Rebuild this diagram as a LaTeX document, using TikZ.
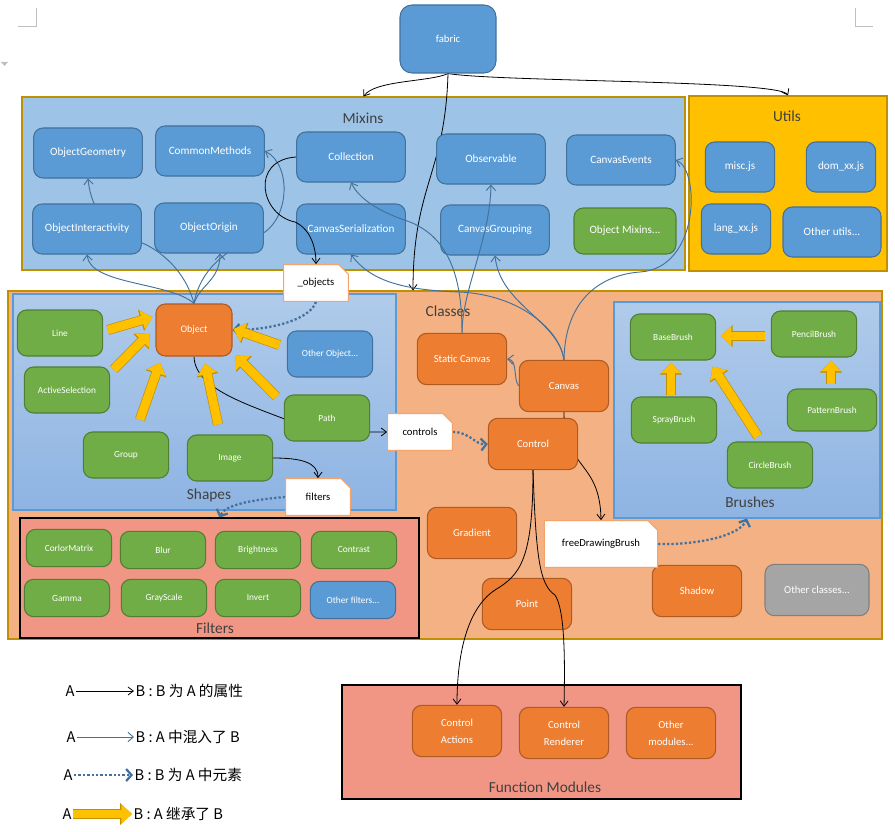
\documentclass[tikz,border=0pt]{standalone}
\usepackage{fontspec}
\setmainfont{Carlito}
\newfontfamily\cjk{Noto Sans CJK SC}
\usepackage{tikz}
\usetikzlibrary{arrows.meta, positioning, fit, calc, shapes.misc}
\definecolor{nodeblue}{HTML}{5B9BD5}
\definecolor{nodeblueline}{HTML}{41719C}
\definecolor{nodeorange}{HTML}{ED7D31}
\definecolor{nodeorangeline}{HTML}{AE5A21}
\definecolor{nodegreen}{HTML}{70AD47}
\definecolor{nodegreenline}{HTML}{507E32}
\definecolor{nodegray}{HTML}{A5A5A5}
\definecolor{nodegrayline}{HTML}{7F7F7F}
\definecolor{mixinfill}{HTML}{9DC3E6}
\definecolor{utilfill}{HTML}{FFC000}
\definecolor{classfill}{HTML}{F4B183}
\definecolor{groupline}{HTML}{BF9000}
\definecolor{shapetop}{HTML}{B0CBEA}
\definecolor{shapebottom}{HTML}{8EB4E3}
\definecolor{filterfill}{HTML}{F19585}
\definecolor{noteline}{HTML}{F4A46A}
\definecolor{mixlink}{HTML}{41719C}
\definecolor{inhyellow}{HTML}{FFC000}
\definecolor{inhline}{HTML}{BF9000}
\definecolor{titlegray}{HTML}{404040}
\definecolor{markgray}{HTML}{BFBFBF}
\pgfdeclarelayer{boxes}
\pgfdeclarelayer{links}
\pgfsetlayers{boxes,links,main}

\begin{document}
\begin{tikzpicture}[
    x=0.75pt, y=0.75pt,
    cls/.style={rounded corners=7pt, line width=0.8pt, text=white, align=center, font=\fontsize{8}{12.5}\selectfont, inner sep=1pt},
    bluebox/.style={cls, fill=nodeblue, draw=nodeblueline},
    orangebox/.style={cls, fill=nodeorange, draw=nodeorangeline},
    greenbox/.style={cls, fill=nodegreen, draw=nodegreenline},
    graybox/.style={cls, fill=nodegray, draw=nodegrayline},
    mixsize/.style={minimum width=81.5pt, minimum height=37.5pt, font=\fontsize{8.4}{10}\selectfont},
    utilsize/.style={minimum width=52pt, minimum height=37.5pt, font=\fontsize{8.4}{10}\selectfont},
    shapesize/.style={minimum width=64pt, minimum height=34.5pt, font=\fontsize{7}{9}\selectfont},
    filtersize/.style={minimum width=64pt, minimum height=28pt, font=\fontsize{7}{9}\selectfont},
    classsize/.style={minimum width=67pt, minimum height=38.5pt},
    area/.style={draw=groupline, line width=0.8pt, inner sep=0pt},
    areatitle/.style={text=titlegray, font=\fontsize{11.5}{14}\selectfont, inner sep=1pt},
    note/.style={chamfered rectangle, chamfered rectangle corners=north east, chamfered rectangle xsep=4pt, draw=noteline, fill=white, line width=0.8pt, font=\fontsize{8}{10}\selectfont, inner sep=1pt, minimum width=48.5pt, minimum height=27.5pt},
    propline/.style={-{Straight Barb[length=4pt,width=6pt]}, line width=0.6pt, black},
    mixline/.style={-{Straight Barb[length=4pt,width=7pt]}, line width=0.7pt, mixlink},
    elemline/.style={line width=1.7pt, mixlink, dash pattern=on 1.7pt off 1.6pt, -{Straight Barb[length=4pt,width=9pt]}},
    inheritarrow/.style={line width=6.5pt, draw=inhyellow, -{Triangle[length=8pt,width=14pt]}, preaction={draw=inhline, line width=7.5pt, -{Triangle[length=9pt,width=16pt]}}},
    legend/.style={font=\cjk\fontsize{11}{13}\selectfont, inner sep=1pt}
]
    \useasboundingbox (0,0) rectangle (895,-831);

    % Page corner marks
    \draw[markgray, line width=0.6pt] (36,-8) -- (36,-26) -- (18,-26);
    \draw[markgray, line width=0.6pt] (855,-8) -- (855,-26) -- (873,-26);
    \fill[markgray] (1,-62) -- (8,-62) -- (4.5,-66) -- cycle;

    % Nodes - top
    \node[bluebox, rounded corners=9pt, minimum width=72pt, minimum height=51pt] (fabric) at (448,-39) {fabric};

    % Nodes - mixins
    \node[bluebox, mixsize] (objgeo) at (88,-153) {ObjectGeometry};
    \node[bluebox, mixsize] (common) at (210,-151) {CommonMethods};
    \node[bluebox, mixsize] (collection) at (351,-157) {Collection};
    \node[bluebox, mixsize] (observable) at (491,-159) {Observable};
    \node[bluebox, mixsize] (cevents) at (621,-160) {CanvasEvents};
    \node[bluebox, mixsize] (objinter) at (87,-229) {ObjectInteractivity};
    \node[bluebox, mixsize] (objorigin) at (209,-228) {ObjectOrigin};
    \node[bluebox, mixsize] (cserial) at (351,-229) {CanvasSerialization};
    \node[bluebox, mixsize] (cgroup) at (495,-230) {CanvasGrouping};
    \node[greenbox, mixsize, minimum width=76.5pt, minimum height=34.5pt] (objmix) at (625,-231) {Object Mixins...};

    % Nodes - utils
    \node[bluebox, utilsize] (misc) at (740,-167) {misc.js};
    \node[bluebox, utilsize] (dom) at (841,-167) {dom\_xx.js};
    \node[bluebox, utilsize] (lang) at (736,-229) {lang\_xx.js};
    \node[bluebox, utilsize, minimum width=73.5pt] (otherutil) at (832,-232) {Other utils...};

    % Nodes - shapes
    \node[orangebox, shapesize, minimum width=57pt, minimum height=39pt, font=\fontsize{7.5}{9}\selectfont] (object) at (194,-330) {Object};
    \node[greenbox, shapesize] (line) at (60,-333) {Line};
    \node[greenbox, shapesize] (actsel) at (67,-390) {ActiveSelection};
    \node[greenbox, shapesize] (grp) at (126,-455) {Group};
    \node[greenbox, shapesize] (image) at (230,-458) {Image};
    \node[greenbox, shapesize] (pathshape) at (327,-418) {Path};
    \node[bluebox, shapesize] (otherobj) at (330,-354) {Other Object...};

    % Nodes - filters
    \node[greenbox, filtersize] (cmatrix) at (69,-548) {CorlorMatrix};
    \node[greenbox, filtersize] (blur) at (163,-550) {Blur};
    \node[greenbox, filtersize] (bright) at (258,-550) {Brightness};
    \node[greenbox, filtersize] (contrast) at (354,-550) {Contrast};
    \node[greenbox, filtersize] (gamma) at (67,-598) {Gamma};
    \node[greenbox, filtersize] (grayscale) at (164,-598) {GrayScale};
    \node[greenbox, filtersize] (invert) at (258,-598) {Invert};
    \node[bluebox, filtersize] (otherfilter) at (353,-600) {Other filters...};

    % Nodes - classes
    \node[orangebox, classsize] (static) at (462,-359) {Static Canvas};
    \node[orangebox, classsize] (canvas) at (564,-386) {Canvas};
    \node[orangebox, classsize] (control) at (533,-444) {Control};
    \node[orangebox, classsize] (gradient) at (472,-533) {Gradient};
    \node[orangebox, classsize] (point) at (527,-604) {Point};
    \node[orangebox, classsize] (shadow) at (697,-591) {Shadow};
    \node[graybox, classsize, minimum width=78pt] (otherclass) at (817,-590) {Other classes...};

    % Nodes - brushes
    \node[greenbox, shapesize] (base) at (673,-337) {BaseBrush};
    \node[greenbox, shapesize] (pencil) at (814,-334) {PencilBrush};
    \node[greenbox, shapesize] (spray) at (674,-420) {SprayBrush};
    \node[greenbox, shapesize, minimum width=67pt, minimum height=31.5pt] (pattern) at (832,-410) {PatternBrush};
    \node[greenbox, shapesize] (circle) at (770,-465) {CircleBrush};

    % Nodes - function modules
    \node[orangebox, classsize] (cactions) at (457,-731) {Control\\Actions};
    \node[orangebox, classsize] (crender) at (564,-733) {Control\\Renderer};
    \node[orangebox, classsize] (othermod) at (671,-733) {Other\\modules...};

    % Notes
    \node[note] (objects) at (316,-283) {\_objects};
    \node[note] (controls) at (420,-432) {controls};
    \node[note] (filternote) at (318,-497) {filters};
    \node[note, minimum width=85pt, minimum height=35pt] (freebrush) at (601,-544) {freeDrawingBrush};

    % Titles
    \node[areatitle] (mixinstitle) at (363,-118) {Mixins};
    \node[areatitle] (utilstitle) at (787,-116) {Utils};
    \node[areatitle] (classestitle) at (448,-311) {Classes};
    \node[areatitle] (shapestitle) at (209,-495) {Shapes};
    \node[areatitle] (brushestitle) at (750,-502) {Brushes};
    \node[areatitle] (filterstitle) at (215,-628) {Filters};
    \node[areatitle] (funcmodtitle) at (545,-787) {Function Modules};

    % Areas
    \begin{pgfonlayer}{boxes}
        \fill[white] (0,0) rectangle (895,-831);
        \node[area, fill=mixinfill, fit={(22,-97) (685,-270)}] (mixins) {};
        \node[area, fill=utilfill, fit={(689,-96) (887,-271)}] (utils) {};
        \node[area, fill=classfill, fit={(8,-291) (882,-639)}] (classes) {};
        \node[area, draw=nodeblue, top color=shapetop, bottom color=shapebottom, fit={(13,-294) (396,-510)}] (shapes) {};
        \node[area, draw=nodeblue, top color=shapetop, bottom color=shapebottom, fit={(614,-302) (880,-518)}] (brushes) {};
        \node[area, draw=black, fill=filterfill, fit={(20,-518) (419,-638)}] (filtersarea) {};
        \node[area, draw=black, fill=filterfill, fit={(342,-685) (741,-799)}] (funcmod) {};
    \end{pgfonlayer}

    % Legend
    \node[legend] (lgA1) at (70,-691) {A};
    \node[legend, anchor=west] (lgB1) at (134,-691) {B : B 为 A 的属性};
    \node[legend] (lgA2) at (71,-737) {A};
    \node[legend, anchor=west] (lgB2) at (134,-737) {B : A 中混入了 B};
    \node[legend] (lgA3) at (68,-775) {A};
    \node[legend, anchor=west] (lgB3) at (133,-775) {B : B 为 A 中元素};
    \node[legend] (lgA4) at (67,-814) {A};
    \node[legend, anchor=west] (lgB4) at (132,-814) {B : A 继承了 B};

    \begin{pgfonlayer}{links}
        % Arrows - mixins (behind boxes)
        \draw[mixline] (object.north) .. controls (185,-270) and (160,-250) .. (140,-242) .. controls (100,-230) and (90,-200) .. (objgeo.south);
        \draw[mixline] (object.north) .. controls (170,-282) and (90,-285) .. (objinter.south);
        \draw[mixline] (object.north) .. controls (200,-285) and (220,-280) .. ($(objorigin.south)+(11,0)$);
        \draw[mixline] (object.north) .. controls (200,-270) and (225,-250) .. (260,-235) .. controls (290,-220) and (292,-165) .. (common.east);
        \draw[mixline] (canvas.north) .. controls (558,-320) and (500,-305) .. (cgroup.south);
        \draw[mixline] (canvas.north) .. controls (565,-300) and (600,-275) .. (640,-272) .. controls (700,-268) and (700,-170) .. (cevents.east);
        \draw[mixline] (canvas.west) .. controls (513,-380) and (518,-360) .. (static.east);

        % Arrows - properties (behind boxes)
        \draw[propline] (fabric.south) .. controls (430,-82) and (375,-80) .. ($(mixins.north)+(10,0)$);
        \draw[propline] (fabric.south) .. controls (500,-82) and (780,-80) .. (utils.north);
        \draw[propline] (fabric.south) .. controls (445,-175) and (413,-185) .. ($(classes.north)+(-32,0)$);
        \draw[propline] (object.south) .. controls (195,-390) and (250,-405) .. (300,-425) .. controls (340,-432) .. (controls.west);
        \draw[propline] (image.east) .. controls (300,-458) and (318,-462) .. (filternote.north);
        \draw[propline] (canvas.south) .. controls (564,-470) and (600,-460) .. (freebrush.north);

        % Arrows - elements
        \draw[elemline] (objects.south) .. controls (310,-320) and (270,-330) .. (object.east);
        \draw[elemline] (filternote.west) .. controls (250,-500) and (225,-505) .. (filtersarea.north);
        \draw[elemline] (controls.east) .. controls (470,-432) and (475,-445) .. (control.west);
        \draw[elemline] (freebrush.east) .. controls (700,-545) and (740,-535) .. (brushes.south);

        % Legend arrows
        \draw[propline] (lgA1.east) -- (lgB1.west);
        \draw[mixline] (lgA2.east) -- (lgB2.west);
        \draw[elemline] (lgA3.east) -- (lgB3.west);
    \end{pgfonlayer}

    % Arrows - over boxes
    \draw[mixline] (static.north) .. controls (462,-290) and (455,-240) .. (410,-222) .. controls (380,-212) and (360,-200) .. (collection.south);
    \draw[mixline] (static.north) .. controls (462,-290) and (490,-240) .. (observable.south);
    \draw[mixline] (canvas.north) .. controls (560,-330) and (520,-295) .. (460,-292) .. controls (400,-290) and (370,-280) .. (cserial.south);
    \draw[propline] (collection.west) .. controls (250,-160) and (260,-215) .. (295,-222) .. controls (312,-230) and (316,-250) .. (objects.north);
    \draw[propline] (control.south) .. controls (533,-560) and (520,-575) .. (495,-590) .. controls (465,-610) and (457,-660) .. (cactions.north);
    \draw[propline] (control.south) .. controls (536,-560) and (540,-585) .. (555,-595) .. controls (565,-610) and (565,-660) .. (crender.north);

    % Arrows - inheritance
    \draw[inheritarrow] ($(line.east)+(4.5,3)$) -- ($(object.west)+(-3,13)$);
    \draw[inheritarrow] ($(actsel.north east)+(3.5,-3)$) -- ($(object.west)+(-6,-3)$);
    \draw[inheritarrow] ($(grp.north)+(14,12)$) -- ($(object.south)+(-34,-6)$);
    \draw[inheritarrow] ($(image.north)+(-12,10)$) -- ($(object.south)+(11,-7)$);
    \draw[inheritarrow] ($(pathshape.north west)+(-7.5,-2)$) -- ($(object.south east)+(3,1)$);
    \draw[inheritarrow] ($(otherobj.west)+(-7.5,9)$) -- ($(object.east)+(1,1)$);
    \draw[inheritarrow] ($(pencil.west)+(-5.5,-2)$) -- ($(base.east)+(4.5,1)$);
    \draw[inheritarrow] ($(spray.north)+(-3,1)$) -- ($(base.south)+(-2,-2)$);
    \draw[inheritarrow] ($(circle.north)+(-12,5)$) -- ($(base.south east)+(-3.5,-6)$);
    \draw[inheritarrow] ($(pattern.north)+(-1,4)$) -- ($(pencil.south)+(17,-3)$);
    \draw[inheritarrow] (lgA4.east) -- (lgB4.west);
\end{tikzpicture}
\end{document}
